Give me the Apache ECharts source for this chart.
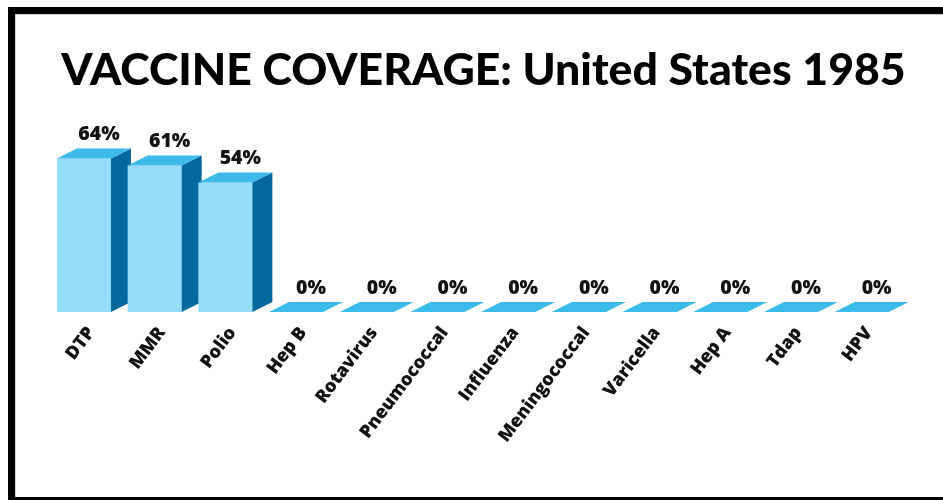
<!DOCTYPE html>
<html>
<head>
<meta charset="utf-8">
<style>
  html, body { margin: 0; padding: 0; background: #fff; }
  #chart { width: 943px; height: 500px; }
</style>
<script src="https://cdn.jsdelivr.net/npm/echarts@6/dist/echarts.min.js"></script>
</head>
<body>
<div id="chart"></div>
<script>
// Vaccine coverage by antigen, United States 1985 (percent)
const vaccines = ['DTP', 'MMR', 'Polio', 'Hep B', 'Rotavirus', 'Pneumococcal',
  'Influenza', 'Meningococcal', 'Varicella', 'Hep A', 'Tdap', 'HPV'];
const coverage = [64, 61, 54, 0, 0, 0, 0, 0, 0, 0, 0, 0];

const titleText = 'VACCINE COVERAGE: United States 1985';

const FRONT = '#94dcfa';
const SIDE = '#03689c';
const TOP = '#3cbae9';
const TITLE_FONT = 'Lato, "Open Sans", sans-serif';
const LABEL_FONT = '"Open Sans", Lato, sans-serif';

const chart = echarts.init(document.getElementById('chart'), null, { renderer: 'canvas' });

// Box-shaped bar: front face, right side face and top face
function renderBox(params, api) {
  const idx = api.value(0);
  const val = api.value(1);
  const base = api.coord([idx, 0]);
  const top = api.coord([idx, val]);
  const band = api.size([1, 0])[0];
  const w = band * 0.764;
  const dx = band * 0.283;
  const dy = dx * 0.5;
  const x0 = base[0] - w / 2;
  const x1 = base[0] + w / 2;
  const yb = base[1];
  const yt = top[1];
  const children = [];
  if (yb - yt > 0.5) {
    children.push({
      type: 'rect',
      shape: { x: x0, y: yt, width: w, height: yb - yt },
      style: { fill: FRONT }
    });
    children.push({
      type: 'polygon',
      shape: { points: [[x1, yt], [x1 + dx, yt - dy], [x1 + dx, yb - dy], [x1, yb]] },
      style: { fill: SIDE }
    });
  }
  children.push({
    type: 'polygon',
    shape: { points: [[x0, yt], [x0 + dx, yt - dy], [x1 + dx, yt - dy], [x1, yt]] },
    style: { fill: TOP }
  });
  children.push({
    type: 'text',
    style: {
      text: val + '%',
      x: base[0] + dx * 0.75,
      y: yt - dy - 4,
      align: 'center',
      verticalAlign: 'bottom',
      fill: '#111',
      font: '800 19.5px ' + LABEL_FONT
    }
  });
  return { type: 'group', children };
}

chart.setOption({
  backgroundColor: '#ffffff',
  animation: false,
  grid: { left: 48.6, right: 943 - 48.6 - 12 * 70.7, top: 72, bottom: 188, containLabel: false },
  xAxis: {
    type: 'category',
    data: vaccines,
    axisLine: { show: false },
    axisTick: { show: false },
    axisLabel: {
      rotate: 53,
      margin: 12,
      interval: 0,
      verticalAlign: 'top',
      fontFamily: LABEL_FONT,
      fontWeight: 800,
      fontSize: 18,
      color: '#111'
    }
  },
  yAxis: { type: 'value', min: 0, max: 100, show: false },
  graphic: [
    // frame
    { type: 'rect', shape: { x: 8, y: 7, width: 935, height: 7 }, style: { fill: '#000' } },
    { type: 'rect', shape: { x: 8, y: 7, width: 7, height: 493 }, style: { fill: '#000' } },
    { type: 'rect', shape: { x: 15, y: 497, width: 928, height: 3 }, style: { fill: '#000' } },
    { type: 'rect', shape: { x: 15, y: 14, width: 928, height: 1 }, style: { fill: '#cfcfcf' } },
    { type: 'rect', shape: { x: 15, y: 14, width: 1, height: 483 }, style: { fill: '#cfcfcf' } },
    {
      type: 'text',
      x: 483.5, y: 70.5,
      style: {
        text: titleText,
        align: 'center',
        verticalAlign: 'middle',
        font: '900 44.6px ' + TITLE_FONT,
        fill: '#000'
      }
    }
  ],
  series: [{
    type: 'custom',
    renderItem: renderBox,
    data: coverage.map((v, i) => [i, v]),
    encode: { x: 0, y: 1 },
    clip: false
  }]
});
</script>
</body>
</html>
